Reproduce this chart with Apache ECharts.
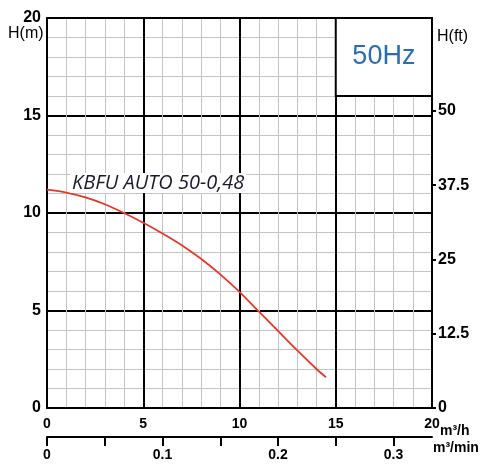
<!DOCTYPE html>
<html>
<head>
<meta charset="utf-8">
<script src="https://cdn.jsdelivr.net/npm/echarts@6/dist/echarts.min.js"></script>
<style>
  html, body { margin: 0; padding: 0; background: #fff; }
  #main { width: 490px; height: 467px; }
</style>
</head>
<body>
<div id="main"></div>
<script>
// pump curve KBFU AUTO 50-0,48 (Q m3/h, H m)
var flow = [0, 1, 2, 3, 4, 5, 6, 7, 8, 9, 10, 11, 12, 13, 14, 14.5];
var head = [11.2, 11.05, 10.8, 10.45, 10.0, 9.5, 8.95, 8.35, 7.65, 6.85, 5.95, 4.95, 3.95, 2.95, 2.0, 1.57];
var qTicks = [0, 5, 10, 15, 20];
var hTicks = [0, 5, 10, 15, 20];
var ftTicks = [0, 12.5, 25, 37.5, 50];
var minTicks = [0, 0.05, 0.1, 0.15, 0.2, 0.25, 0.3];
var minLabels = [0, 0.1, 0.2, 0.3];

var myChart = echarts.init(document.getElementById('main'));
var bold = { color: '#000', fontWeight: 'bold', fontFamily: 'Liberation Sans', fontSize: 15 };
var minor = { show: true, lineStyle: { color: '#c4c4c4', width: 1 } };
var major = { show: true, lineStyle: { color: '#000', width: 2 } };

var option = {
  animation: false,
  grid: { left: 47, right: 58, top: 18, bottom: 59 },
  xAxis: [{
    // minor grid + m3/h labels
    type: 'value', min: 0, max: 20, interval: 1, position: 'bottom',
    axisLine: { show: true, onZero: false, lineStyle: { color: '#000', width: 2 } },
    axisTick: { show: false },
    splitLine: minor,
    axisLabel: Object.assign({}, bold, { fontSize: 14, margin: 9, customValues: qTicks })
  }, {
    // major grid lines
    type: 'value', min: 0, max: 20, interval: 5, position: 'top',
    axisLine: { show: true, onZero: false, lineStyle: { color: '#000', width: 2 } },
    axisTick: { show: false }, axisLabel: { show: false },
    splitLine: major
  }, {
    // m3/min scale
    type: 'value', min: 0, max: 20 / 60, interval: 0.05, position: 'bottom', offset: 29,
    axisLine: { show: true, onZero: false, lineStyle: { color: '#000', width: 2 } },
    axisTick: { show: true, inside: false, length: 9, lineStyle: { color: '#000', width: 2 }, customValues: minTicks },
    splitLine: { show: false },
    axisLabel: Object.assign({}, bold, { fontSize: 14, margin: 11, customValues: minLabels })
  }],
  yAxis: [{
    type: 'value', min: 0, max: 20, interval: 1, position: 'left',
    axisLine: { show: true, onZero: false, lineStyle: { color: '#000', width: 2 } },
    axisTick: { show: false },
    splitLine: minor,
    axisLabel: Object.assign({}, bold, { fontSize: 16, margin: 6, customValues: hTicks })
  }, {
    type: 'value', min: 0, max: 20, interval: 5, position: 'left',
    axisLine: { show: false }, axisTick: { show: false }, axisLabel: { show: false },
    splitLine: major
  }, {
    // feet
    type: 'value', min: 0, max: 20 / 0.3048, interval: 12.5, position: 'right',
    axisLine: { show: true, onZero: false, lineStyle: { color: '#000', width: 2 } },
    axisTick: { show: true, length: 4, lineStyle: { color: '#000', width: 2 }, customValues: ftTicks },
    splitLine: { show: false },
    axisLabel: Object.assign({}, bold, { fontSize: 16, margin: 6, customValues: ftTicks })
  }],
  graphic: [
    { type: 'text', left: 8, top: 26, style: { text: 'H(m)', font: '16px "Liberation Sans"', fill: '#000' } },
    { type: 'text', left: 437, top: 29, style: { text: 'H(ft)', font: '16px "Liberation Sans"', fill: '#000' } },
    { type: 'text', left: 440, top: 424, style: { text: 'm³/h', font: 'bold 14px "Liberation Sans Narrow", "Liberation Sans"', fill: '#000' } },
    { type: 'text', left: 433, top: 441, style: { text: 'm³/min', font: 'bold 14px "Liberation Sans Narrow", "Liberation Sans"', fill: '#000' } },
    { type: 'text', left: 70, top: 173, z: 10,
      style: { text: 'KBFU AUTO 50-0,48', font: 'italic 20px "Open Sans"', fill: '#1a1a2e',
        backgroundColor: '#fff', padding: [0, 2, 0, 2], lineHeight: 20 } }
  ],
  series: [{
    type: 'line',
    xAxisIndex: 0, yAxisIndex: 0,
    smooth: 0.3, symbol: 'none',
    lineStyle: { color: '#e8362c', width: 1.8 },
    data: flow.map(function (q, i) { return [q, head[i]]; }),
    markArea: {
      silent: true,
      itemStyle: { color: '#fff', borderColor: '#000', borderWidth: 2 },
      label: { show: true, position: 'inside', color: '#2a6db5', fontSize: 27, fontFamily: 'Liberation Sans' },
      data: [[{ name: '50Hz', coord: [15, 16] }, { coord: [20, 20] }]]
    }
  }]
};
myChart.setOption(option);
</script>
</body>
</html>
